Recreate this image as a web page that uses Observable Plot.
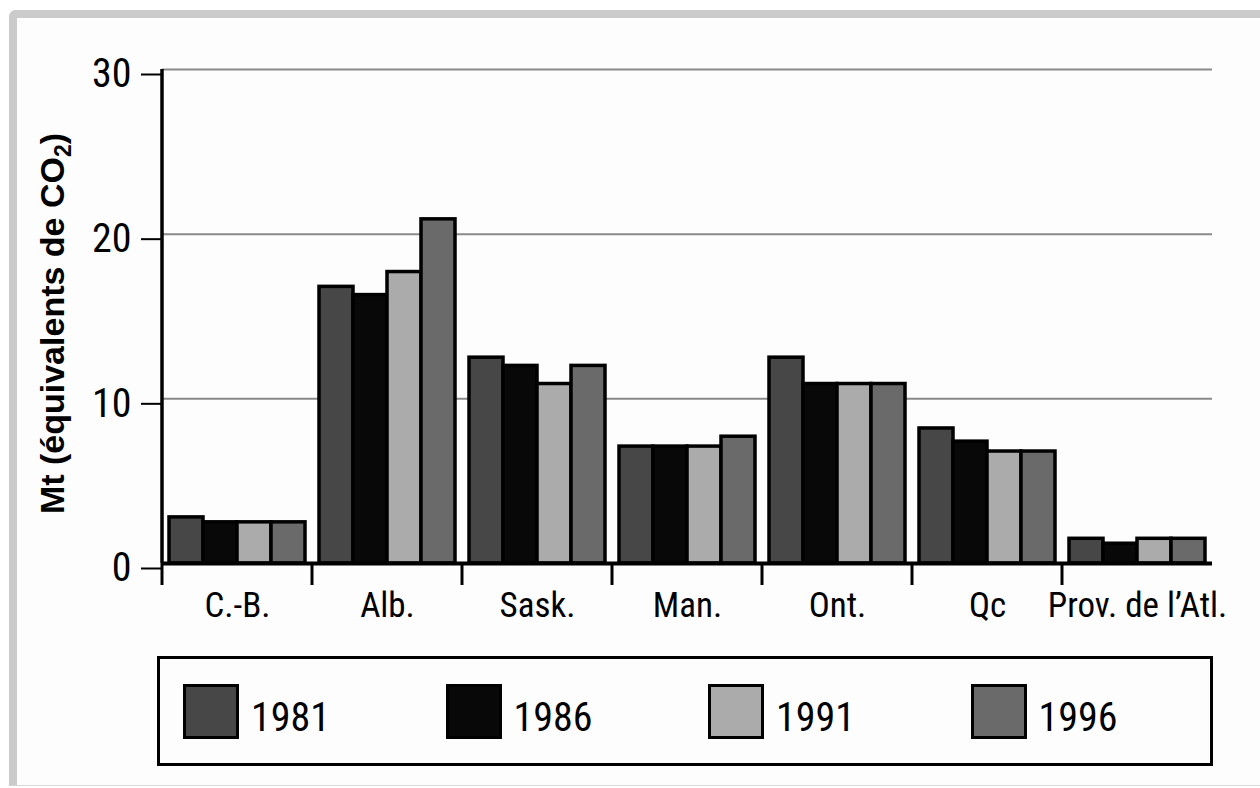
<!DOCTYPE html>
<html>
<head>
<meta charset="utf-8">
<script src="https://cdn.jsdelivr.net/npm/d3@7"></script>
<script src="https://cdn.jsdelivr.net/npm/@observablehq/plot@0.6"></script>
<style>
  html, body { margin: 0; padding: 0; background: #ffffff; }
  #frame {
    position: absolute; left: 9px; top: 10px; width: 1260px; height: 767px;
    border-left: 8px solid #cbcbcb; border-top: 8px solid #cbcbcb;
    border-bottom: 1px solid #d8d8d8; border-top-left-radius: 7px;
    background: #fdfdfd; z-index: 0;
  }
  #chart { position: absolute; left: 0; top: 0; width: 1260px; z-index: 1; }
  #legend {
    margin-left: 157px; margin-top: 6px; width: 1050px; height: 104px;
    border: 3px solid #000; display: flex; align-items: center;
    font-family: "Roboto Condensed", "Liberation Sans Narrow", "Arial Narrow", Roboto, sans-serif;
    font-stretch: condensed;
  }
  .item { width: 267px; display: flex; align-items: center; padding-left: 23px; box-sizing: border-box; }
  .sw { width: 50px; height: 49px; border: 3.5px solid #000; }
  .lab { font-size: 40px; margin-left: 12px; position: relative; top: 7px; line-height: 1; }
</style>
</head>
<body>
<div id="frame"></div>
<div id="chart"></div>
<script>
const provinces = ["C.-B.", "Alb.", "Sask.", "Man.", "Ont.", "Qc", "Prov. de l’Atl."];
const years = ["1981", "1986", "1991", "1996"];
const v1981 = [2.8, 16.8, 12.5, 7.1, 12.5, 8.2, 1.5];
const v1986 = [2.5, 16.3, 12.0, 7.1, 10.9, 7.4, 1.2];
const v1991 = [2.5, 17.7, 10.9, 7.1, 10.9, 6.8, 1.5];
const v1996 = [2.5, 20.9, 12.0, 7.7, 10.9, 6.8, 1.5];
const yTicks = [0, 10, 20, 30];
const colors = ["#474747", "#080808", "#ababab", "#6a6a6a"];
const yTitle = "Mt (équivalents de CO";
const yTitleSub = "2";
const yTitleEnd = ")";

const series = [v1981, v1986, v1991, v1996];
const data = [];
provinces.forEach((p, i) => years.forEach((yr, j) => data.push({prov: p, year: yr, value: series[j][i]})));

const FONT = '"Roboto Condensed", "Liberation Sans Narrow", "Arial Narrow", Roboto, sans-serif';

const plot = Plot.plot({
  width: 1260, height: 650,
  marginLeft: 160, marginRight: 47, marginTop: 69, marginBottom: 87,
  style: {fontFamily: FONT, fontStretch: "condensed", background: "transparent", color: "#000"},
  fx: {domain: provinces, padding: 0, label: null, axis: null},
  x: {domain: years, paddingInner: 0, paddingOuter: 0.2, axis: null},
  y: {domain: [0, 30], axis: null},
  color: {domain: years, range: colors},
  marks: [
    Plot.gridY(yTicks, {stroke: "#8a8a8a", strokeOpacity: 1, strokeWidth: 2}),
    Plot.barY(data, {fx: "prov", x: "year", y: "value", fill: "year", stroke: "#000", strokeWidth: 3.5}),
    Plot.ruleY([0], {stroke: "#000", strokeWidth: 4}),
    Plot.axisY(yTicks, {tickSize: 21, tickPadding: 10, fontSize: 40, strokeWidth: 2, dy: 5,
      label: yTitle, labelArrow: "none", labelAnchor: "center", labelOffset: 123}),
    Plot.axisFx({anchor: "bottom", tickSize: 0, tickPadding: 29, fontSize: 35, label: null})
  ]
});

const svg = d3.select(plot);
const fx = plot.scale("fx");
const y = plot.scale("y");
const gx = svg.append("g").attr("stroke", "#000");
// y axis line
gx.append("line")
  .attr("x1", fx.apply(provinces[0])).attr("x2", fx.apply(provinces[0]))
  .attr("y1", y.apply(yTicks[yTicks.length - 1])).attr("y2", y.apply(0))
  .attr("stroke-width", 3.5);
// category boundary ticks
provinces.forEach(p => {
  gx.append("line")
    .attr("x1", fx.apply(p)).attr("x2", fx.apply(p))
    .attr("y1", y.apply(0)).attr("y2", y.apply(0) + 22)
    .attr("stroke-width", 3);
});
// y title: bold with subscript
svg.selectAll("text").filter(function() { return d3.select(this).text().startsWith(yTitle); })
  .each(function() {
    const t = d3.select(this);
    t.text(yTitle)
      .attr("font-weight", "bold").attr("font-size", 34)
      .attr("dx", -7)
      .style("font-family", '"Liberation Sans", Arial, sans-serif')
      .style("font-stretch", "normal");
    t.append("tspan").attr("font-size", 23).attr("dy", "0.3em").text(yTitleSub);
    t.append("tspan").attr("dy", "-0.2em").text(yTitleEnd);
  });

document.getElementById("chart").append(plot);

const legend = document.createElement("div");
legend.id = "legend";
years.forEach((yr, i) => {
  const item = document.createElement("div");
  item.className = "item";
  const sw = document.createElement("div");
  sw.className = "sw";
  sw.style.background = colors[i];
  const lab = document.createElement("span");
  lab.className = "lab";
  lab.textContent = yr;
  item.append(sw, lab);
  legend.append(item);
});
document.getElementById("chart").append(legend);
</script>
</body>
</html>
